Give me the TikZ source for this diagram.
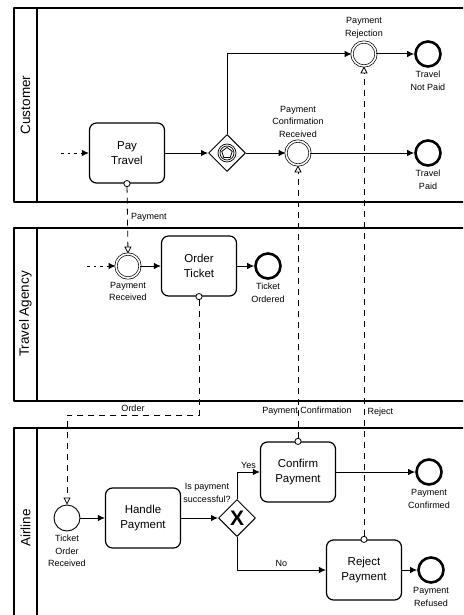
\documentclass[tikz,border=0pt]{standalone}
\usepackage{fontspec}
\setmainfont{Liberation Sans}
\usetikzlibrary{arrows.meta,shapes.geometric}

\begin{document}
\begin{tikzpicture}
			[x=1pt,y=-1pt,line join=round,
			pool/.style={draw,line width=1.2pt},
			lane/.style={rotate=90,font=\fontsize{13.5}{16}\selectfont},
			task/.style={draw,rectangle,rounded corners=7pt,line width=1.2pt,minimum width=75pt,minimum height=60pt,align=center,font=\fontsize{11.5}{15}\selectfont},
			event/.style={draw,circle,line width=0.9pt,minimum size=26pt,inner sep=0pt},
			inter/.style={draw,circle,double,line width=0.7pt,double distance=1.6pt,minimum size=24pt,inner sep=0pt},
			endev/.style={draw,circle,line width=2.6pt,minimum size=25pt,inner sep=0pt},
			gate/.style={draw,diamond,aspect=1,line width=1pt,minimum size=37pt,inner sep=0pt},
			lbl/.style={align=center,font=\fontsize{9}{12.5}\selectfont},
			flow/.style={line width=1pt,-{Latex[length=7pt,width=6.5pt]}},
			entry/.style={flow,dash pattern=on 2.5pt off 4pt},
			msg/.style={line width=0.8pt,dash pattern=on 6pt off 5pt,{Circle[fill=white,length=7pt,width=7pt]}-{Triangle[fill=white,length=7pt,width=7pt]},shorten <=-3.5pt},
			]
			\clip (0,0) rectangle (463,615);
			\fill[white] (0,0) rectangle (463,615);
			
			% pools
			\draw[pool] (14,8) rectangle (480,202) (37,8) -- (37,202);
			\draw[pool] (14,228) rectangle (480,401) (37,228) -- (37,401);
			\draw[pool] (14,428) rectangle (480,628) (37,428) -- (37,628);
			\node[lane] (customer) at (25.5,105) {Customer};
			\node[lane] (agency) at (25.5,314) {Travel Agency};
			\node[lane] (airline) at (25.5,528) {Airline};
			
			% customer
			\coordinate (inCust) at (61,153);
			\node (payTravel) at (127,153)[task] {Pay\\Travel};
			\node (evgw) at (227,153)[gate] {};
			\draw[line width=0.7pt] (evgw.center) circle (9pt) circle (7pt);
			\node (penta) at (evgw.center)[draw,regular polygon,regular polygon sides=5,minimum size=11pt,inner sep=0pt,line width=0.8pt] {};
			\node (confRecv) at (298,153)[inter,label={[lbl]above:{Payment\\Confirmation\\Received}}] {};
			\node (rejRecv) at (364,54)[inter,label={[lbl]above:{Payment\\Rejection}}] {};
			\node (notPaid) at (428,54)[endev,label={[lbl]below:{Travel\\Not Paid}}] {};
			\node (paid) at (428,153)[endev,label={[lbl]below:{Travel\\Paid}}] {};
			\draw[entry] (inCust) -- (payTravel);
			\draw[flow] (payTravel) -- (evgw);
			\draw[flow] (evgw) -- (confRecv);
			\draw[flow] (evgw.north) |- (rejRecv);
			\draw[flow] (rejRecv) -- (notPaid);
			\draw[flow] (confRecv) -- (paid);
			
			% travel agency
			\coordinate (inAgency) at (87,266);
			\node (payRecv) at (128,266)[inter,label={[lbl]below:{Payment\\Received}}] {};
			\node (orderTicket) at (199,266)[task] {Order\\Ticket};
			\node (ticketOrdered) at (268,266)[endev,label={[lbl]below:{Ticket\\Ordered}}] {};
			\draw[entry] (inAgency) -- (payRecv);
			\draw[flow] (payRecv) -- (orderTicket);
			\draw[flow] (orderTicket) -- (ticketOrdered);
			
			% airline
			\node (ticketRecv) at (67,518)[event,label={[lbl]below:{Ticket\\Order\\Received}}] {};
			\node (handlePay) at (143,518)[task] {Handle\\Payment};
			\node (xorgw) at (237,518)[gate,font=\fontsize{21}{21}\bfseries] {X};
			\node (question) at (207,493)[lbl] {Is payment\\successful?};
			\node (confirmPay) at (298,472)[task] {Confirm\\Payment};
			\node (paidConf) at (429,472)[endev,label={[lbl]below:{Payment\\Confirmed}}] {};
			\node (rejectPay) at (364,570)[task] {Reject\\Payment};
			\node (refused) at (431,570)[endev,label={[lbl]below:{Payment\\Refused}}] {};
			\draw[flow] (ticketRecv) -- (handlePay);
			\draw[flow] (handlePay) -- (xorgw);
			\draw[flow] (xorgw.north) |- node[lbl,pos=0.75,above] {Yes} (confirmPay);
			\draw[flow] (xorgw.south) |- node[lbl,pos=0.75,above] {No} (rejectPay);
			\draw[flow] (confirmPay) -- (paidConf);
			\draw[flow] (rejectPay) -- (refused);
			
			% messages
			\coordinate (orderBend) at (199,415);
			\draw[msg] (payTravel.south) -- node[lbl,right,pos=0.48] {Payment} (payRecv.north);
			\draw[msg] (orderTicket.south) -- (orderBend) -| node[lbl,above,pos=0.25] {Order} (ticketRecv.north);
			\draw[msg] (confirmPay.north) -- node[lbl,pos=0.11,xshift=9pt] {Payment Confirmation} (confRecv.south);
			\draw[msg] (rejectPay.north) -- node[lbl,right,pos=0.27] {Reject} (rejRecv.south);
			
	\end{tikzpicture}
\end{document}
